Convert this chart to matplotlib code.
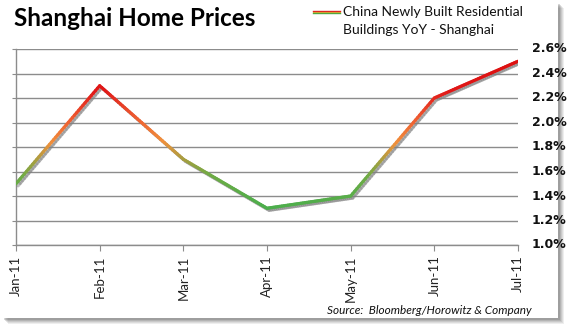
import numpy as np
import matplotlib
matplotlib.use("Agg")
import matplotlib.pyplot as plt
from matplotlib.collections import LineCollection
from matplotlib.colors import LinearSegmentedColormap
from matplotlib.patches import Rectangle
from matplotlib.lines import Line2D
import matplotlib.patheffects as pe

months = ["Jan-11", "Feb-11", "Mar-11", "Apr-11", "May-11", "Jun-11", "Jul-11"]
yoy = [1.5, 2.3, 1.7, 1.3, 1.4, 2.2, 2.5]
yticks = [1.0, 1.2, 1.4, 1.6, 1.8, 2.0, 2.2, 2.4, 2.6]

W, H = 574, 334
fig = plt.figure(figsize=(W / 100, H / 100), dpi=100)
fig.patch.set_facecolor("white")

# drop shadow of chart frame
for i, a in enumerate([0.10, 0.12, 0.15, 0.2, 0.25]):
    off = 6 - i
    fig.patches.append(Rectangle(((2 + off) / W, 1 - (318 + off) / H), 556 / W, (316) / H,
                                 transform=fig.transFigure, facecolor="#606060",
                                 edgecolor="none", alpha=a, zorder=0))
fig.patches.append(Rectangle((0, 1 - 318 / H), 558 / W, 318 / H, transform=fig.transFigure,
                             facecolor="white", edgecolor="none", zorder=1))

ax = fig.add_axes([16 / W, 1 - 245 / H, (518 - 16) / W, (245 - 49) / H])
ax.set_facecolor("none")
ax.set_zorder(2)

x = np.arange(len(months))
y = np.array(yoy)

cmap = LinearSegmentedColormap.from_list("g", [
    (0.0, "#4cae4c"), (0.22, "#6fab45"), (0.33, "#a89e40"), (0.45, "#f0903c"),
    (0.62, "#ee5a30"), (0.8, "#e01818"), (1.0, "#dd1010")])

# subdivide segments only for colour gradient rendering
xs, ys = [], []
for i in range(len(x) - 1):
    t = np.linspace(0, 1, 40, endpoint=False)
    xs.append(x[i] + (x[i + 1] - x[i]) * t)
    ys.append(y[i] + (y[i + 1] - y[i]) * t)
xs.append([x[-1]]); ys.append([y[-1]])
xs = np.concatenate(xs); ys = np.concatenate(ys)
pts = np.column_stack([xs, ys]).reshape(-1, 1, 2)
segs = np.concatenate([pts[:-1], pts[1:]], axis=1)
vals = (ys[:-1] + ys[1:]) / 2
lc = LineCollection(segs, cmap=cmap, norm=plt.Normalize(1.3, 2.5), linewidths=2.3,
                    capstyle="round", joinstyle="round", zorder=3)
lc.set_array(vals)
lc.set_path_effects([pe.SimpleLineShadow(offset=(1.5, -1.5), shadow_color="#808080", alpha=0.5),
                     pe.Normal()])
ax.add_collection(lc)

ax.set_xlim(0, len(months) - 1)
ax.set_ylim(1.0, 2.6)
ax.set_yticks(yticks)
ax.yaxis.set_ticks_position("left")
ax.grid(axis="y", color="#8c8c8c", linewidth=1.0)
ax.set_axisbelow(True)
for s in ["top", "right"]:
    ax.spines[s].set_visible(False)
for s in ["left", "bottom"]:
    ax.spines[s].set_color("#8c8c8c")
    ax.spines[s].set_linewidth(1.0)
ax.tick_params(axis="y", direction="out", length=3, color="#8c8c8c", labelleft=False)
ax.tick_params(axis="x", direction="out", length=4, color="#8c8c8c")
ax.set_xticks(x)
ax.set_xticklabels(months, rotation=90, fontsize=9.5, family="Lato", color="#222222")

# right-side labels without tick marks
for v in yticks:
    ax.text(1.028, (v - 1.0) / 1.6, f"{v:.1f}%", transform=ax.transAxes, ha="left",
            va="center", fontsize=9, fontweight="bold", family="DejaVu Sans", color="#111111")

fig.text(14 / W, 1 - 19 / H, "Shanghai Home Prices", fontsize=17.5, fontweight="bold",
         family="Lato", va="center", ha="left", color="black", zorder=5)

# legend
lx0, lx1, ly = 313 / W, 340 / W, 1 - 12 / H
fig.lines.append(Line2D([lx0, lx1], [ly + 0.9 / H, ly + 0.9 / H], transform=fig.transFigure,
                        color="#e02020", linewidth=1.0, zorder=5))
fig.lines.append(Line2D([lx0, lx1], [ly, ly], transform=fig.transFigure,
                        color="#f0a030", linewidth=0.8, zorder=5))
fig.lines.append(Line2D([lx0, lx1], [ly - 0.9 / H, ly - 0.9 / H], transform=fig.transFigure,
                        color="#50a840", linewidth=1.0, zorder=5))
fig.text(343 / W, 1 - 12 / H, "China Newly Built Residential", fontsize=10, family="Lato",
         va="center", ha="left", color="#111111", zorder=5)
fig.text(343 / W, 1 - 30 / H, "Buildings YoY - Shanghai", fontsize=10, family="Lato",
         va="center", ha="left", color="#111111", zorder=5)

fig.text(532 / W, 1 - 311 / H, "Source:  Bloomberg/Horowitz & Company", fontsize=8.5,
         family="Lato", style="italic", va="center", ha="right", color="#111111", zorder=5)

fig.savefig("out.png", dpi=100)
